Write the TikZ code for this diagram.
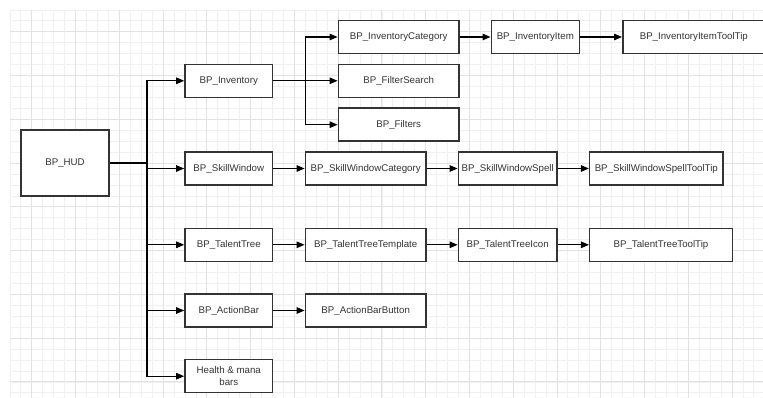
\documentclass[tikz,border=0pt]{standalone}
\usepackage{fontspec}
\setmainfont{Liberation Sans}
\usetikzlibrary{arrows.meta}
\definecolor{ink}{HTML}{333333}
\definecolor{gridminor}{HTML}{F0F0F0}
\definecolor{gridmajor}{HTML}{E2E2E2}
\tikzset{
  box/.style={draw=ink, line width=1.5pt, fill=white, inner sep=0pt,
    minimum height=33pt, text=ink, font=\fontsize{9.7pt}{12.6pt}\selectfont,
    align=center},
  link/.style={draw=black, line width=1.2pt,
    -{Triangle[length=8pt,width=6.5pt]}},
  plain/.style={draw=black, line width=1.2pt},
}
\begin{document}
\begin{tikzpicture}[x=1pt,y=-1pt]
  \useasboundingbox (0,0) rectangle (763,398);
  \fill[white] (0,0) rectangle (763,398);
  % background grid
  \begin{scope}
    \clip (10,10) rectangle (763,398);
    \foreach \i in {0,...,69}
      \draw[gridminor, line width=0.9pt] ({10+\i*10.94},10) -- ({10+\i*10.94},398);
    \foreach \i in {0,...,35}
      \draw[gridminor, line width=0.9pt] (10,{10+\i*10.94}) -- (763,{10+\i*10.94});
    \foreach \i in {0,...,17}
      \draw[gridmajor, line width=1pt] ({31.88+\i*43.76},10) -- ({31.88+\i*43.76},398);
    \foreach \i in {0,...,8}
      \draw[gridmajor, line width=1pt] (10,{31.88+\i*43.76}) -- (763,{31.88+\i*43.76});
  \end{scope}

  % nodes
  \node[box, minimum width=88pt, minimum height=66pt] (hud) at (65,163) {BP\_HUD};

  \node[box, minimum width=87.7pt] (inv) at (228.8,80.8) {BP\_Inventory};
  \node[box, minimum width=87.7pt] (skw) at (228.8,168.5) {BP\_SkillWindow};
  \node[box, minimum width=87.7pt] (tal) at (228.8,244.8) {BP\_TalentTree};
  \node[box, minimum width=87.7pt] (act) at (228.8,310.5) {BP\_ActionBar};
  \node[box, minimum width=87.7pt] (hmb) at (228.8,376.2) {Health \& mana\\bars};

  \node[box, minimum width=120.7pt] (cat) at (398.7,37) {BP\_InventoryCategory};
  \node[box, minimum width=120.7pt] (fse) at (398.7,80.8) {BP\_FilterSearch};
  \node[box, minimum width=120.7pt] (fil) at (398.7,124.7) {BP\_Filters};

  \node[box, minimum width=88pt] (itm) at (535.3,37) {BP\_InventoryItem};
  \node[box, minimum width=142pt] (itt) at (693.8,37) {BP\_InventoryItemToolTip};

  \node[box, minimum width=120.7pt] (skc) at (365.7,168.5) {BP\_SkillWindowCategory};
  \node[box, minimum width=98.7pt] (sks) at (507.7,168.5) {BP\_SkillWindowSpell};
  \node[box, minimum width=133.3pt] (sst) at (656.3,168.5) {BP\_SkillWindowSpellToolTip};

  \node[box, minimum width=120.7pt] (ttt) at (365.7,244.8) {BP\_TalentTreeTemplate};
  \node[box, minimum width=98.7pt] (tic) at (507.7,244.8) {BP\_TalentTreeIcon};
  \node[box, minimum width=142.6pt] (ttp) at (661,244.8) {BP\_TalentTreeToolTip};

  \node[box, minimum width=120.7pt] (abb) at (365.7,310.5) {BP\_ActionBarButton};

  % branch points
  \coordinate (t1) at (147,163);
  \coordinate (t2) at (305.3,80.8);

  % connectors from the HUD
  \draw[plain] (hud.east) -- (t1);
  \foreach \n in {inv,skw,tal,act,hmb}
    \draw[link] (t1) |- (\n.west);

  % connectors from the inventory
  \draw[plain] (inv.east) -- (t2);
  \foreach \n in {cat,fse,fil}
    \draw[link] (t2) |- (\n.west);

  % chains
  \draw[link] (cat) -- (itm);
  \draw[link] (itm) -- (itt);
  \draw[link] (skw) -- (skc);
  \draw[link] (skc) -- (sks);
  \draw[link] (sks) -- (sst);
  \draw[link] (tal) -- (ttt);
  \draw[link] (ttt) -- (tic);
  \draw[link] (tic) -- (ttp);
  \draw[link] (act) -- (abb);
\end{tikzpicture}
\end{document}
